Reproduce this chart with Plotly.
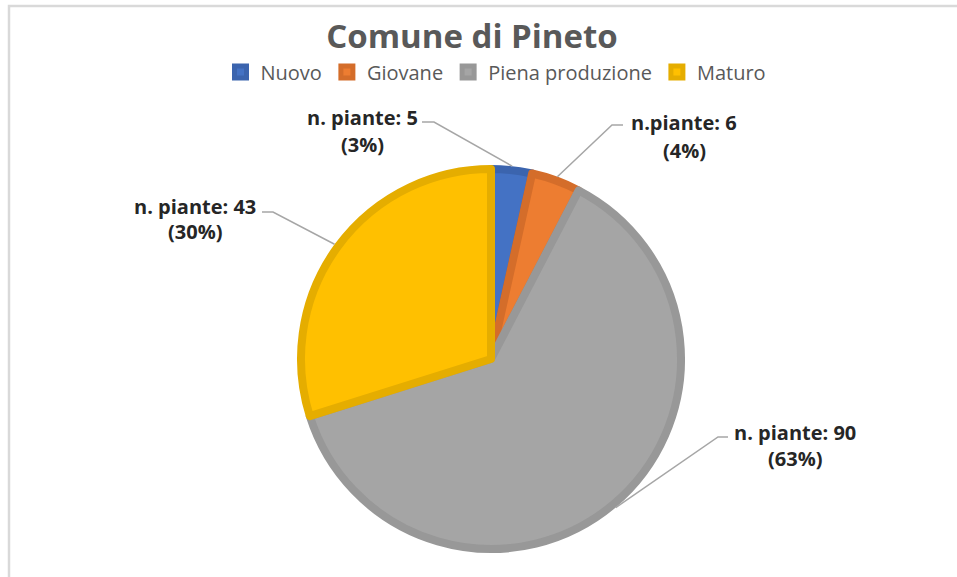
import math
import plotly.graph_objects as go

# ---- data ----
categories = ["Nuovo", "Giovane", "Piena produzione", "Maturo"]
values = [5, 6, 90, 43]
label_prefix = ["n. piante: ", "n.piante: ", "n. piante: ", "n. piante: "]
title_text = "Comune di Pineto"

# ---- styles ----
fill_colors = ["#4472C4", "#ED7D31", "#A5A5A5", "#FFC000"]
edge_colors = ["#3B64AE", "#D46D2A", "#989898", "#E5AD00"]
FONT = "Open Sans"
W, H = 957, 577

# pie geometry (pixels)
CX, CY = 491, 359
R_FILL = 190
LINE_W = 8
R_EDGE = R_FILL + LINE_W / 2


def px(x):
    return x / W


def py(y):
    return 1 - y / H


fig = go.Figure()
fig.add_trace(go.Pie(
    labels=categories,
    values=values,
    sort=False,
    direction="clockwise",
    rotation=0,
    textinfo="none",
    hoverinfo="label+value+percent",
    marker=dict(colors=fill_colors, line=dict(color=edge_colors, width=LINE_W)),
    domain=dict(x=[px(CX - R_FILL), px(CX + R_FILL)],
                y=[py(CY + R_FILL), py(CY - R_FILL)]),
))

# label layout: (text center x, line1 y, line2 y, elbow start x, elbow end x, elbow y)
label_layout = [
    (362, 117, 144, 422, 434, 122),
    (684, 122, 150, 623, 612, 125),
    (795, 432, 459, 728, 718, 437),
    (195, 206, 232, 262, 273, 212),
]

total = sum(values)
cum = 0
annotations = []
shapes = []
for i, v in enumerate(values):
    mid = (cum + v / 2) / total * 2 * math.pi
    cum += v
    ex = CX + R_EDGE * math.sin(mid)
    ey = CY - R_EDGE * math.cos(mid)
    pct = int(math.floor(v / total * 100 + 0.5))
    lx, ly1, ly2, hx0, hx1, hy = label_layout[i]
    annotations.append(dict(x=px(lx), y=py(ly1), xref="paper", yref="paper",
                            text="<b>%s%d</b>" % (label_prefix[i], v), showarrow=False,
                            xanchor="center", yanchor="middle",
                            font=dict(family=FONT, size=20, color="#262626")))
    annotations.append(dict(x=px(lx), y=py(ly2), xref="paper", yref="paper",
                            text="<b>(%d%%)</b>" % pct, showarrow=False,
                            xanchor="center", yanchor="middle",
                            font=dict(family=FONT, size=20, color="#262626")))
    shapes.append(dict(type="path", xref="paper", yref="paper",
                       path="M %f %f L %f %f L %f %f" % (px(hx0), py(hy), px(hx1), py(hy), px(ex), py(ey)),
                       line=dict(color="#A6A6A6", width=1.5)))

# chart area border
shapes.append(dict(type="rect", xref="paper", yref="paper",
                   x0=px(9), y0=py(6), x1=1.05, y1=-0.05,
                   line=dict(color="#D9D9D9", width=2.5), fillcolor="rgba(0,0,0,0)", layer="below"))

fig.update_layout(
    width=W, height=H,
    margin=dict(l=0, r=0, t=0, b=0),
    paper_bgcolor="white",
    title=dict(text="<b>%s</b>" % title_text, x=px(472), xanchor="center",
               y=py(36), yanchor="middle",
               font=dict(family=FONT, size=33, color="#595959")),
    legend=dict(orientation="h", x=px(496), xanchor="center", y=py(72), yanchor="middle",
                font=dict(family=FONT, size=20, color="#595959"),
                itemwidth=30, tracegroupgap=0, bgcolor="rgba(0,0,0,0)"),
    annotations=annotations,
    shapes=shapes,
    font=dict(family=FONT),
)

fig.write_html("out.html", config={"displayModeBar": False},
               post_script="document.body.style.margin='0';")
